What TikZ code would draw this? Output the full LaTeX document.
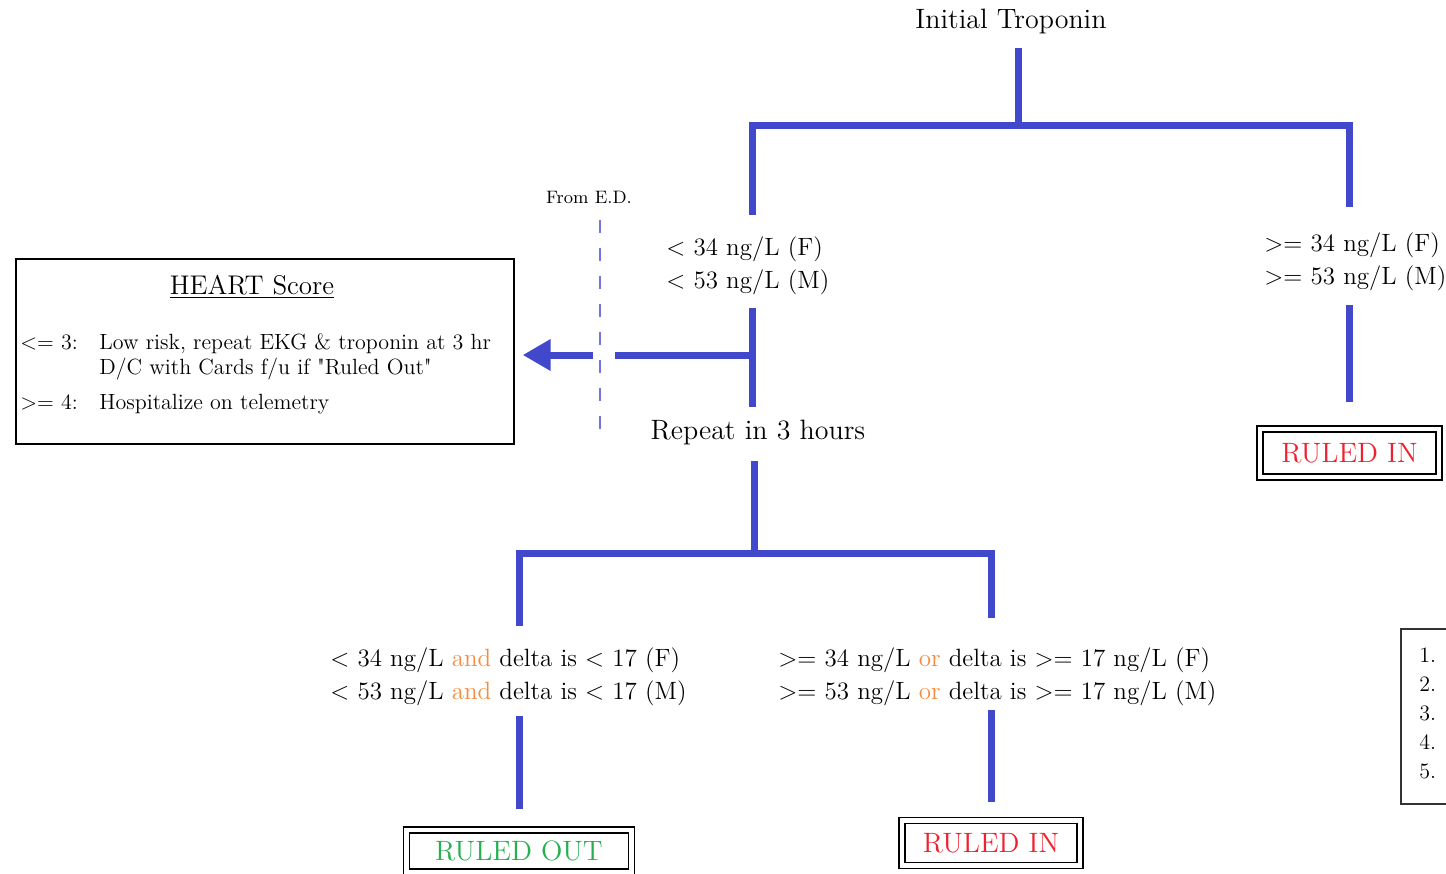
\documentclass[tikz,border=0pt]{standalone}
\usepackage{xcolor}
\usepackage{tikz}
\usetikzlibrary{arrows.meta,positioning,calc}
\definecolor{Branch}{HTML}{4148CC}
\definecolor{EDline}{HTML}{7373E2}
\definecolor{Conj}{HTML}{F58B3C}
\definecolor{Out}{HTML}{27B050}
\definecolor{In}{HTML}{F0202E}
\definecolor{Frame}{HTML}{333333}

\begin{document}
\begin{tikzpicture}[x=0.5pt,y=-0.5pt,>=Latex,
  every node/.style={inner sep=0pt},
  branch/.style={draw=Branch,line width=3.5pt},
  crit/.style={anchor=west,align=left,font=\fontsize{12.5}{16.5}\selectfont},
  head/.style={font=\fontsize{14}{17}\selectfont},
  verdict/.style={draw,double,line width=0.8pt,double distance=2.2pt,font=\fontsize{14}{17}\selectfont},
  hrow/.style={anchor=base west,font=\fontsize{11}{13}\selectfont}]
  \useasboundingbox (0,0) rectangle (1446,873);
  \clip (0,0) rectangle (1446,873);

  % first draw
  \node[head] (init) at (1011,21) {Initial Troponin};
  \node[crit] (lowA) at (666,266) {< 34 ng/L (F)\\< 53 ng/L (M)};
  \node[crit] (hiA) at (1264,262) {>= 34 ng/L (F)\\>= 53 ng/L (M)};
  \node[verdict,minimum width=89.5pt,minimum height=24pt,text=In] (inA) at (1349.5,453) {RULED IN};

  % repeat draw
  \node[head] (repeat) at (758,432) {Repeat in 3 hours};
  \node[crit] (lowB) at (330,677) {< 34 ng/L \textcolor{Conj}{and} delta is < 17 (F)\\< 53 ng/L \textcolor{Conj}{and} delta is < 17 (M)};
  \node[crit] (hiB) at (778,677) {>= 34 ng/L \textcolor{Conj}{or} delta is >= 17 ng/L (F)\\>= 53 ng/L \textcolor{Conj}{or} delta is >= 17 ng/L (M)};
  \node[verdict,minimum width=112.5pt,minimum height=21pt,text=Out] (outB) at (519,851) {RULED OUT};
  \node[verdict,minimum width=89pt,minimum height=22.5pt,text=In] (inB) at (991,843) {RULED IN};

  % HEART score box
  \node[draw,line width=0.7pt,minimum width=249pt,minimum height=92.5pt] (heart) at (265,351.5) {};
  \node[anchor=base,font=\fontsize{13.5}{16}\selectfont] (heartT) at (252,294) {\underline{HEART Score}};
  \node[hrow] (lowK) at (20,349) {<= 3:};
  \node[hrow] (lowR) at (99,349) {Low risk, repeat EKG \& troponin at 3 hr};
  \node[hrow] (lowD) at (99,374) {D/C with Cards f/u if \textquotedbl Ruled Out\textquotedbl};
  \node[hrow] (hiK) at (20,409) {>= 4:};
  \node[hrow] (hiR) at (99,409) {Hospitalize on telemetry};
  \node[font=\fontsize{9}{11}\selectfont] (ed) at (589,197) {From E.D.};

  % list box at the right edge
  \node[draw=Frame,line width=1pt,anchor=north west,minimum width=60pt,minimum height=87.5pt] (steps) at (1400,628) {};
  \node[anchor=north west,align=left,font=\fontsize{11}{14.5}\selectfont] (stepNo) at (1419,647) {1.\\2.\\3.\\4.\\5.};

  \coordinate (fork1) at (1018,125);
  \coordinate (fork2) at (754,553);
  \coordinate (tee) at (752,355);
  \coordinate (edEnd) at (600,435);

  % tree
  \draw[branch,shorten <=7pt] (init.south -| fork1) -- (fork1);
  \draw[branch,shorten <=11pt,shorten >=13pt] (lowA.north -| tee) |- (fork1) -| (hiA.north -| inA);
  \draw[branch,shorten <=7pt,shorten >=13pt] (hiA.south -| inA) -- (inA);
  \draw[branch,shorten <=6.5pt,shorten >=6pt] (lowA.south -| tee) -- (repeat.north -| tee);
  \draw[branch,-{Triangle[length=14pt,width=15pt]},shorten >=4pt] (tee) -- (heart.east |- tee);
  \draw[branch,shorten <=8pt] (repeat.south -| fork2) -- (fork2);
  \draw[branch,shorten <=11pt,shorten >=15pt] (lowB.north -| outB) |- (fork2) -| (hiB.north -| inB);
  \draw[branch,shorten <=5pt,shorten >=10pt] (lowB.south -| outB) -- (outB);
  \draw[branch,shorten <=2pt,shorten >=9pt] (hiB.south -| inB) -- (inB);

  % dashed cut from the E.D.
  \draw[EDline,line width=1pt,dash pattern=on 6.5pt off 7.5pt,shorten <=8pt,
    preaction={draw=white,solid,line width=11pt,transform canvas={xshift=2pt}}] (ed.south -| edEnd) -- (edEnd);
\end{tikzpicture}
\end{document}
